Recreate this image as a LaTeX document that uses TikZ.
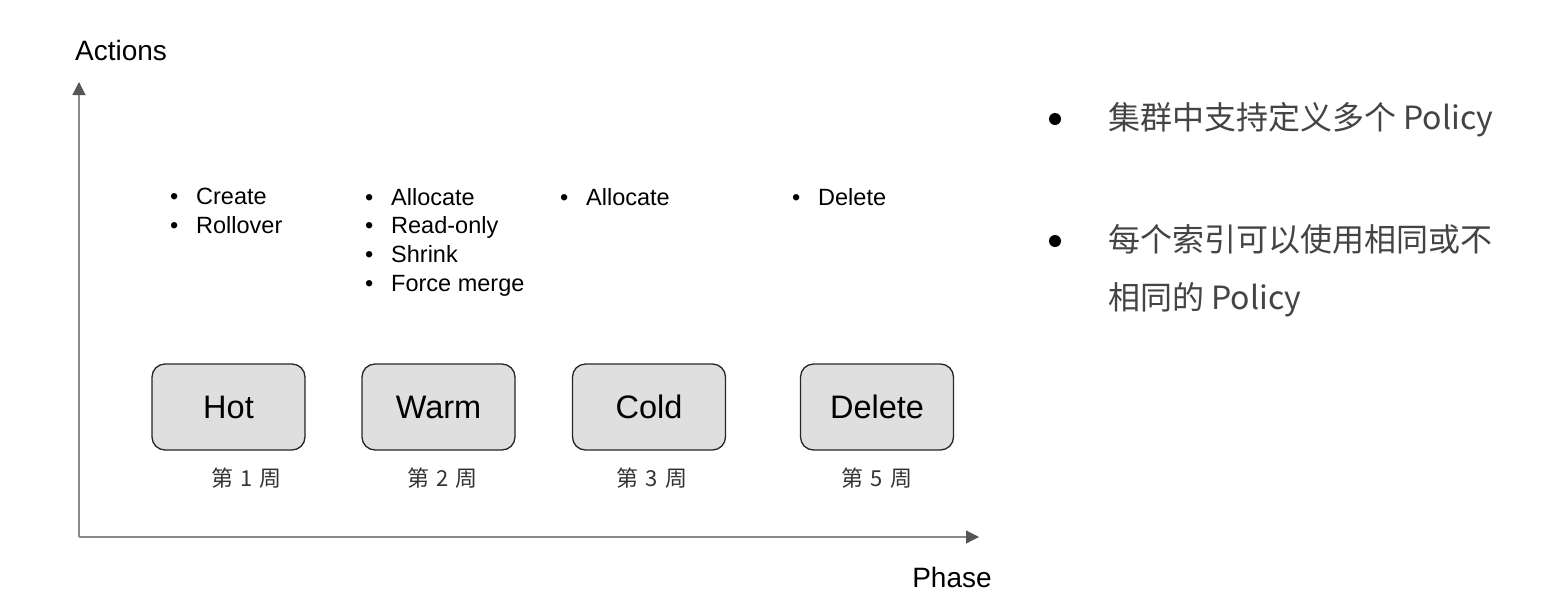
\documentclass[tikz,border=0pt]{standalone}
\usepackage{fontspec}
\setmainfont{Liberation Sans}
\newfontfamily\cjk{Noto Sans CJK SC}
\usetikzlibrary{arrows.meta, positioning}
\definecolor{axisgray}{HTML}{8A8A8A}
\definecolor{tipgray}{HTML}{555555}
\definecolor{boxfill}{HTML}{DFDFDF}
\definecolor{notegray}{HTML}{444444}

\begin{document}
\begin{tikzpicture}[
    x=1pt, y=-1pt,
    phasebox/.style={draw=black!85, line width=1.3pt, rounded corners=13pt, fill=boxfill,
                     minimum width=153pt, minimum height=86pt, inner sep=0pt,
                     font=\fontsize{32.5}{38}\selectfont},
    weeklabel/.style={below=17pt of #1, inner sep=0pt, text=black!80,
                      font=\cjk\fontsize{22}{26}\selectfont},
    actlist/.style={anchor=north west, inner sep=0pt, align=left,
                    font=\fontsize{23.5}{28.7}\selectfont},
    note/.style={anchor=north west, inner sep=0pt, text=notegray, align=left,
                 font=\cjk\fontsize{32}{58}\selectfont},
    axis/.style={draw=axisgray, line width=1.2pt,
                 -{Triangle[length=13pt, width=13pt, fill=tipgray, color=tipgray]}},
    >=Stealth
]
\useasboundingbox (0,0) rectangle (1550,598);

% axes
\coordinate (origin) at (79,537);
\coordinate (ytip) at (79,82);
\coordinate (xtip) at (979,537);
\draw[axis] (origin) -- (ytip);
\draw[axis] (origin) -- (xtip);
\node[font=\fontsize{28}{32}\selectfont] (actions) at (121,50) {Actions};
\node[font=\fontsize{28}{32}\selectfont] (phase) at (952,577) {Phase};

% phases
\node[phasebox] (hot)  at (228.5,407) {Hot};
\node[phasebox] (warm) at (438.5,407) {Warm};
\node[phasebox] (cold) at (649,407)   {Cold};
\node[phasebox] (del)  at (877,407)   {Delete};

\newcommand{\wk}[1]{第\hspace{7pt}#1\hspace{7pt}周}
\node[weeklabel=hot, xshift=18pt] (w1) {\wk{1}};
\node[weeklabel=warm, xshift=4pt] (w2) {\wk{2}};
\node[weeklabel=cold, xshift=3pt] (w3) {\wk{3}};
\node[weeklabel=del] (w5) {\wk{5}};

% actions of each phase
\newcommand{\bul}{\makebox[26pt][l]{\textbullet}}
\node[actlist] (hotact)  at (170,188) {\bul Create\\\bul Rollover};
\node[actlist] (warmact) at (365,188) {\bul Allocate\\\bul Read-only\\\bul Shrink\\\bul Force merge};
\node[actlist] (coldact) at (560,188) {\bul Allocate};
\node[actlist] (delact)  at (792,188) {\bul Delete};

% notes on the right
\fill (1055,119) circle (6pt);
\fill (1055,241) circle (6pt);
\node[note] (note1) at (1108,102) {集群中支持定义多个 Policy};
\node[note] (note2) at (1108,224) {每个索引可以使用相同或不\\相同的 Policy};
\end{tikzpicture}
\end{document}
